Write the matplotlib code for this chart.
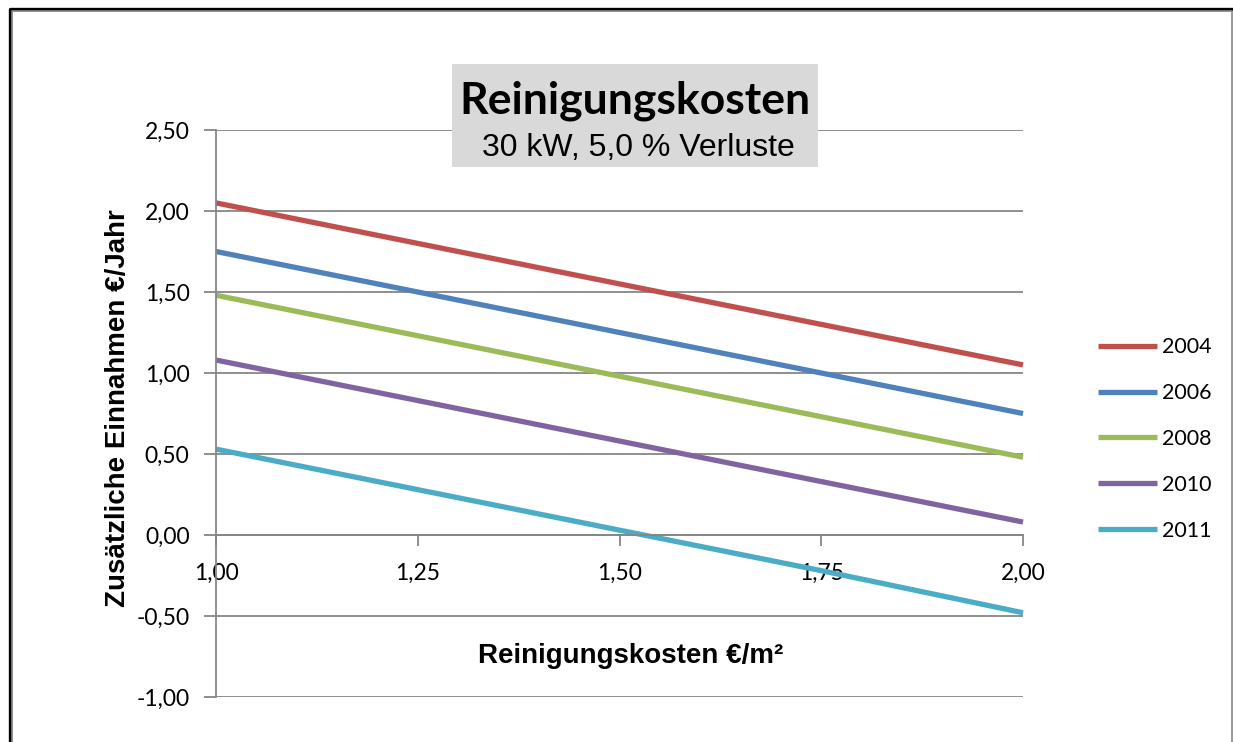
import matplotlib
matplotlib.use("Agg")
import matplotlib.pyplot as plt
from matplotlib.patches import Rectangle
from matplotlib.lines import Line2D
from matplotlib.ticker import FuncFormatter

# data
kosten = [1.00, 1.25, 1.50, 1.75, 2.00]
jahre = ["2004", "2006", "2008", "2010", "2011"]
werte_2004 = [2.05, 1.80, 1.55, 1.30, 1.05]
werte_2006 = [1.75, 1.50, 1.25, 1.00, 0.75]
werte_2008 = [1.48, 1.23, 0.98, 0.73, 0.48]
werte_2010 = [1.08, 0.83, 0.58, 0.33, 0.08]
werte_2011 = [0.53, 0.28, 0.03, -0.22, -0.48]
farben = ["#C0504D", "#4F81BD", "#9BBB59", "#8064A2", "#4BACC6"]

W, H = 1233, 742
fig = plt.figure(figsize=(W / 100, H / 100), dpi=100)

def fx(px):
    return px / W

def fy(px):
    return 1 - px / H

# plot area in pixels: x 216..1023, y 130..697
ax = fig.add_axes([fx(216), fy(697), fx(1023) - fx(216), fy(130) - fy(697)])
ax.set_xlim(1.0, 2.0)
ax.set_ylim(-1.0, 2.5)

grau = "#868686"
for s in ["top", "right"]:
    ax.spines[s].set_visible(False)
ax.spines["left"].set_color(grau)
ax.spines["left"].set_linewidth(1.3)
ax.spines["bottom"].set_position(("data", 0))
ax.spines["bottom"].set_color(grau)
ax.spines["bottom"].set_linewidth(1.3)

ax.set_yticks([-1.0, -0.5, 0.0, 0.5, 1.0, 1.5, 2.0, 2.5])
ax.set_xticks(kosten)
ax.yaxis.grid(True, color=grau, linewidth=1.3)
ax.set_axisbelow(True)

komma = FuncFormatter(lambda v, p: f"{v:.2f}".replace(".", ","))
ax.xaxis.set_major_formatter(komma)
ax.yaxis.set_major_formatter(komma)
ax.tick_params(axis="y", length=9, width=1.3, color=grau, pad=10,
               labelsize=16.5, labelcolor="black")
ax.tick_params(axis="x", length=8, width=1.3, color=grau, pad=12,
               labelsize=16.5, labelcolor="black")
for lab in ax.get_xticklabels() + ax.get_yticklabels():
    lab.set_family("Lato")

reihen = [werte_2004, werte_2006, werte_2008, werte_2010, werte_2011]
for jahr, werte, farbe in zip(jahre, reihen, farben):
    ax.plot(kosten, werte, color=farbe, linewidth=3.8, label=jahr,
            solid_capstyle="butt", clip_on=False)

leg = ax.legend(loc="center left", bbox_to_anchor=(fx(1079), fy(439)),
                bbox_transform=fig.transFigure, frameon=False,
                prop={"family": "Lato", "size": 15.5},
                handlelength=2.7, handletextpad=0.25, labelspacing=1.2)

# axis titles
fig.text(fx(631), fy(656), "Reinigungskosten €/m²", ha="center", va="center",
         family="Liberation Sans", weight="bold", fontsize=20)
fig.text(fx(118), fy(408), "Zusätzliche Einnahmen €/Jahr", ha="center",
         va="center", rotation=90, family="Liberation Sans", weight="bold",
         fontsize=20)

# title box
fig.patches.append(Rectangle((fx(452), fy(167)), fx(818) - fx(452),
                             fy(64) - fy(167), transform=fig.transFigure,
                             facecolor="#D9D9D9", edgecolor="none", zorder=5))
fig.text(fx(635), fy(101), "Reinigungskosten", ha="center", va="center",
         family="Lato", weight="bold", fontsize=32, zorder=6)
fig.text(fx(638), fy(148), "30 kW, 5,0 % Verluste", ha="center", va="center",
         family="Liberation Sans", fontsize=23, zorder=6)

# outer frame (bottom edge is cut off in the original)
fig.add_artist(Line2D([fx(9.5), fx(9.5), fx(1233)], [0, fy(8.5), fy(8.5)],
                      transform=fig.transFigure, color="black", linewidth=2.4))
fig.add_artist(Line2D([fx(12), fx(12), fx(1231.5), fx(1231.5)],
                      [0, fy(10.5), fy(10.5), 0],
                      transform=fig.transFigure, color=grau, linewidth=1.2))

fig.savefig("out.png", dpi=100)
